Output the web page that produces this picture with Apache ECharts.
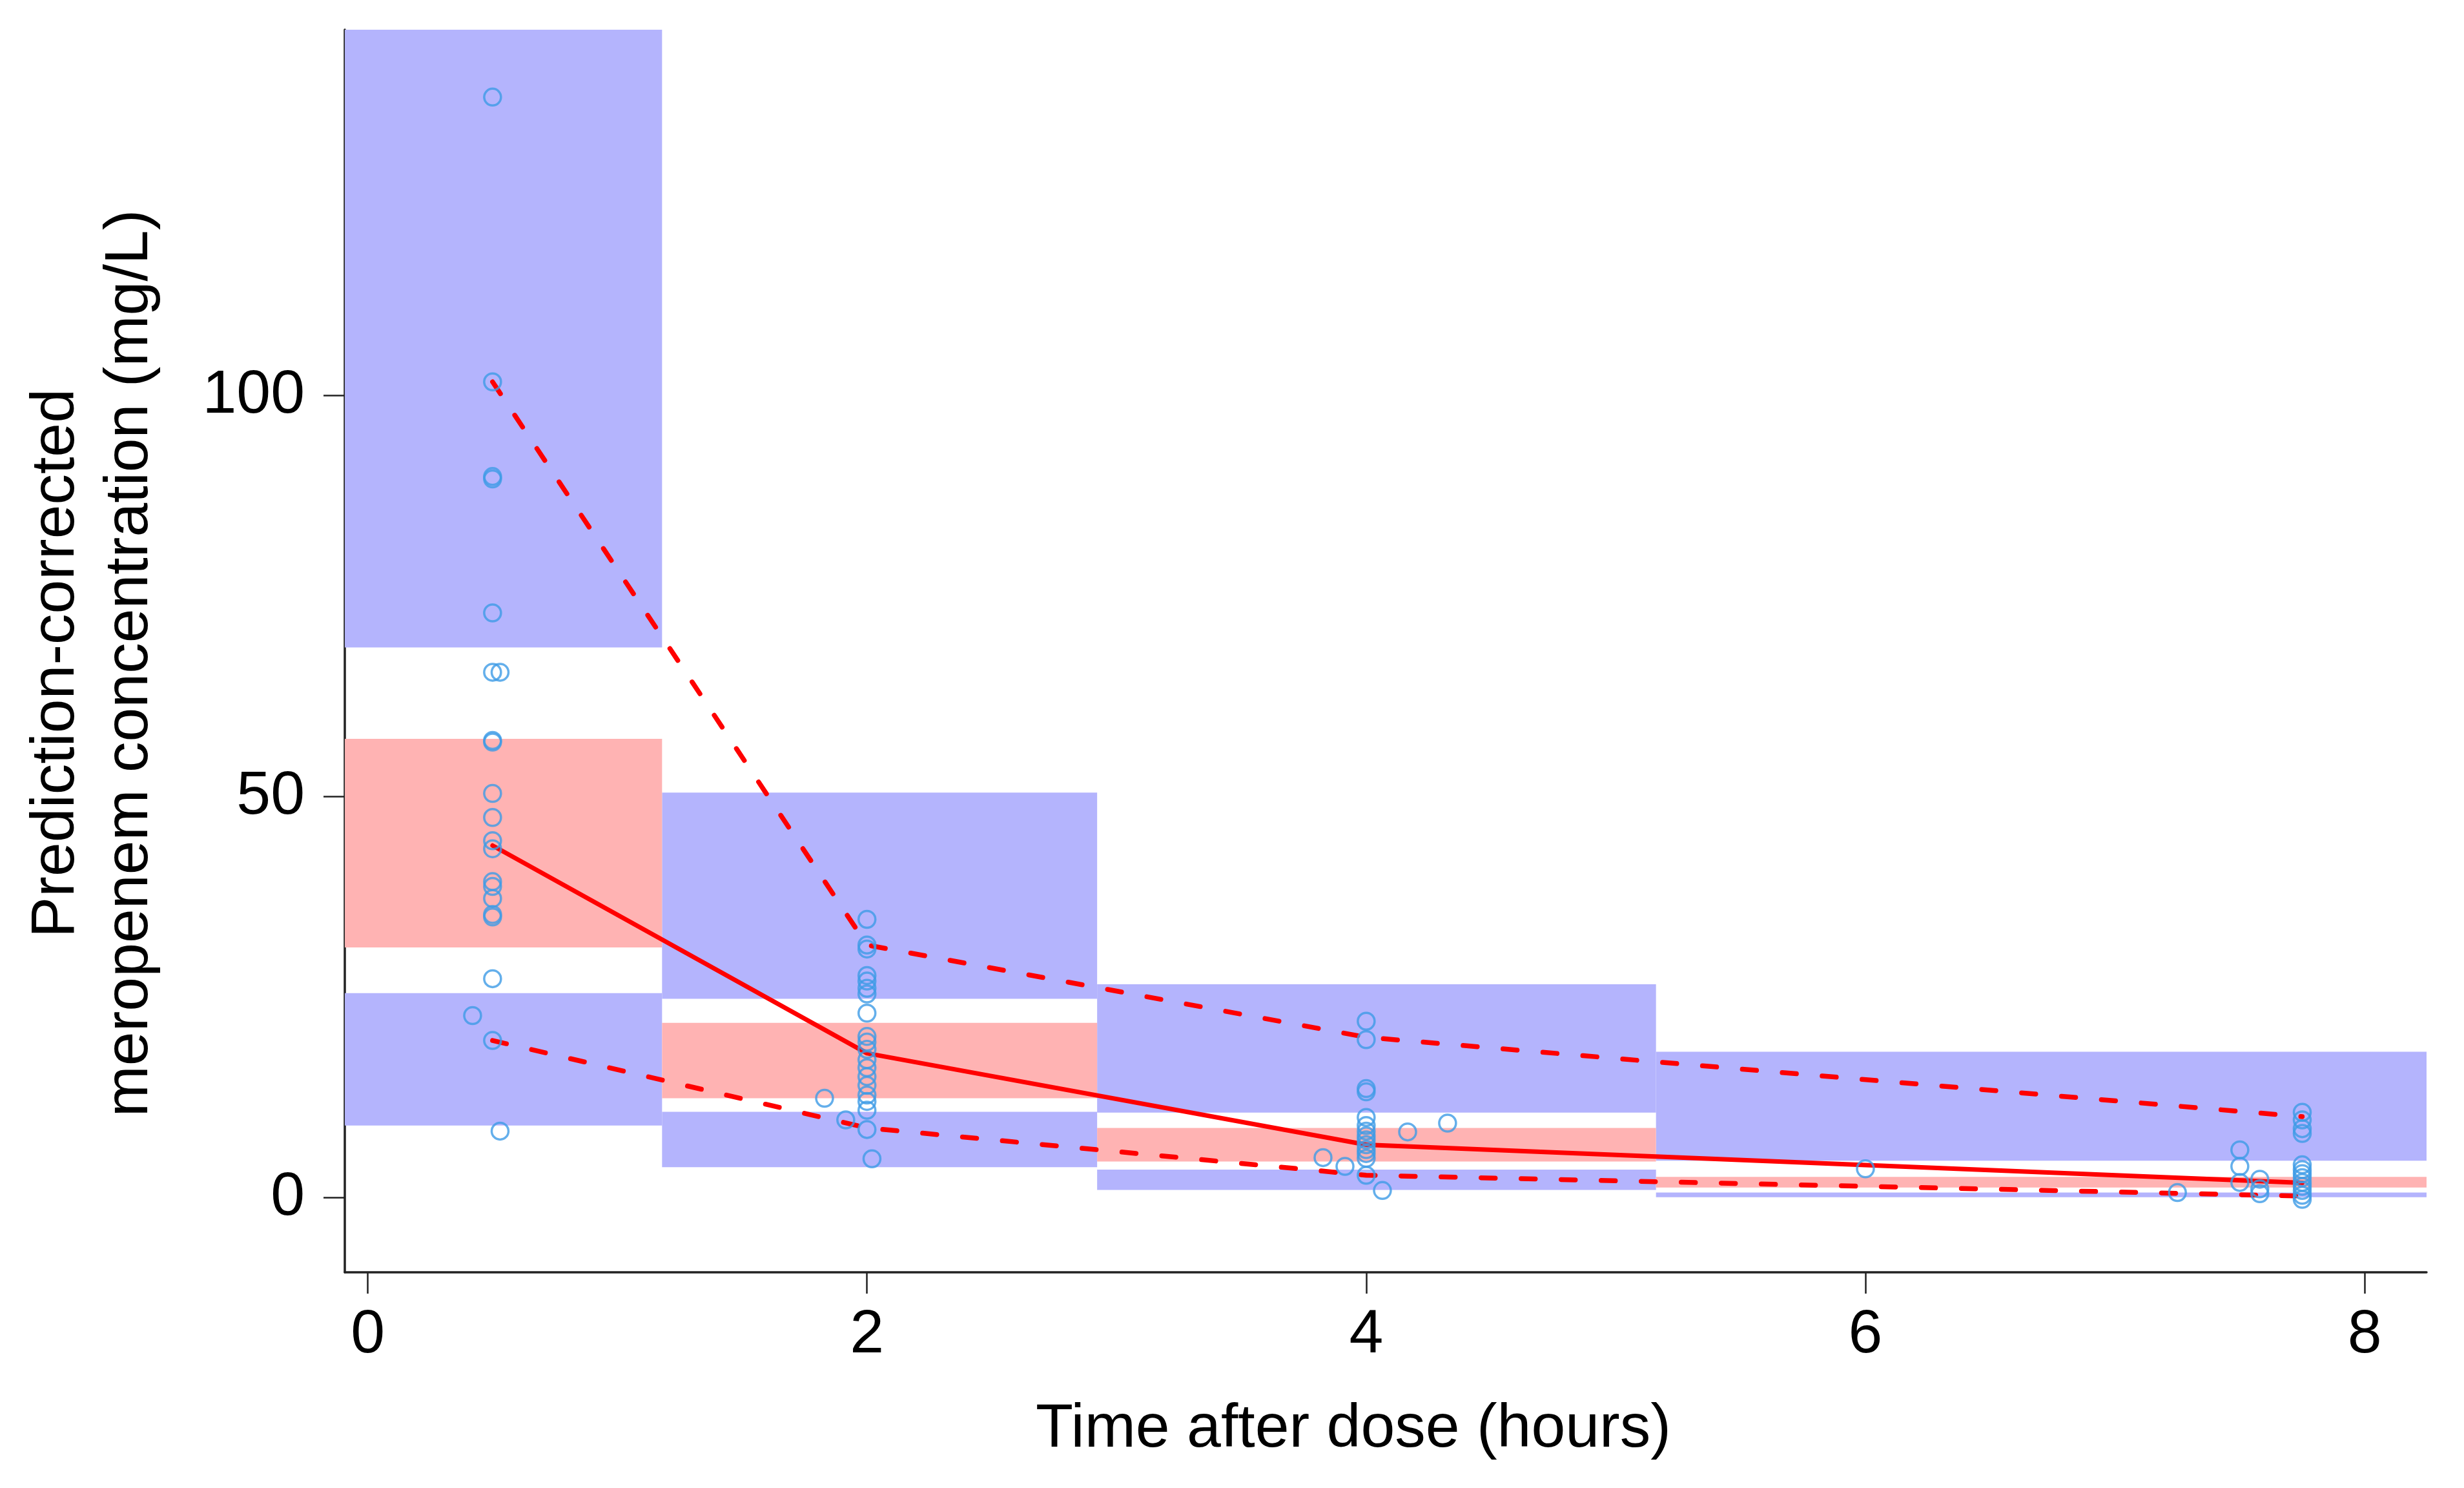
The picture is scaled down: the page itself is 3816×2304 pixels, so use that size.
<!DOCTYPE html>
<html>
<head>
<meta charset="utf-8">
<script src="https://cdn.jsdelivr.net/npm/echarts@6/dist/echarts.min.js"></script>
<style>
html,body{margin:0;padding:0;background:#fff;}
#chart{width:3816px;height:2304px;}
</style>
</head>
<body>
<div id="chart"></div>
<script>
// ---- Data ----
const xTicks = [0, 2, 4, 6, 8];
const yTicks = [0, 50, 100];

// bin boundaries (hours)
const binEdges = [-0.092, 1.179, 2.922, 5.161, 8.248];
// simulated prediction-interval bands per bin
const piLowLo = [9.0, 3.8, 0.97, 0.05];
const piLowHi = [25.5, 10.7, 3.5, 0.64];
const piMedLo = [31.2, 12.4, 4.5, 1.26];
const piMedHi = [57.2, 21.8, 8.7, 2.6];
const piUpLo  = [68.6, 24.8, 10.6, 4.6];
const piUpHi  = [145.6, 50.5, 26.6, 18.2];

// observed percentiles
const lineTimes = [0.5, 2, 4, 7.75];
const obsMedian = [43.9, 18.0, 6.6, 1.85];
const obsUpper  = [101.7, 31.5, 20.0, 10.1];
const obsLower  = [19.6, 8.7, 2.8, 0.2];

// observed prediction-corrected concentrations
const obsTime = [
  0.5,0.5,0.5,0.5,0.5,0.5,0.53,0.5,0.5,0.5,0.5,0.5,0.5,0.5,0.5,0.5,0.5,0.5,0.5,0.42,0.5,0.53,
  2,2,2,2,2,2,2,2,2,2,2,2,2,2,2,2,2,2,2,2.02,1.83,1.915,
  4,4,4,4,4,4,4,4,4,4,4,4,4,4,4.166,4.326,3.827,3.915,4.065,
  6.0,7.25,7.5,7.5,7.5,7.58,7.58,7.58,7.75,7.75,7.75,7.75,7.75,7.75,7.75,7.75,7.75,7.75,7.75,7.75,7.75
];
const obsConc = [
  137.2,101.7,89.9,89.6,72.9,65.5,65.5,57.0,56.8,50.4,47.4,44.5,43.5,39.4,38.8,37.3,35.3,35.0,27.3,22.7,19.6,8.3,
  34.7,31.5,31.0,27.7,27.0,26.1,25.4,23.0,20.1,19.4,18.5,17.2,16.2,15.1,14.0,12.8,12.0,10.9,8.5,4.85,12.4,9.7,
  22.0,19.7,13.6,13.2,10.0,9.0,8.3,7.7,7.2,6.6,6.0,5.5,4.9,2.8,8.2,9.3,5.0,3.9,0.9,
  3.6,0.64,5.96,3.9,1.9,2.3,1.1,0.5,10.65,9.7,8.6,8.0,4.1,3.5,3.0,2.5,1.9,1.4,0.9,0.3,-0.2
];

// ---- Build ----
const blueBands = [], redBands = [];
for (let i = 0; i < binEdges.length - 1; i++) {
  blueBands.push([binEdges[i], binEdges[i+1], piLowLo[i], piLowHi[i]]);
  blueBands.push([binEdges[i], binEdges[i+1], piUpLo[i], piUpHi[i]]);
  redBands.push([binEdges[i], binEdges[i+1], piMedLo[i], piMedHi[i]]);
}
function bandRenderer(color) {
  return function (params, api) {
    const p0 = api.coord([api.value(0), api.value(3)]);
    const p1 = api.coord([api.value(1), api.value(2)]);
    return {
      type: 'rect',
      shape: { x: p0[0], y: p0[1], width: p1[0] - p0[0], height: p1[1] - p0[1] },
      style: { fill: color }
    };
  };
}
const zip = (xs, ys) => xs.map((x, i) => [x, ys[i]]);

const FONT = 'Liberation Sans, Arial, Helvetica, sans-serif';
const chart = echarts.init(document.getElementById('chart'), null, { renderer: 'canvas' });
chart.setOption({
  animation: false,
  backgroundColor: '#ffffff',
  grid: { left: 534, right: 58, top: 46, bottom: 334, containLabel: false },
  xAxis: {
    type: 'value', min: binEdges[0], max: binEdges[binEdges.length - 1],
    name: 'Time after dose (hours)', nameLocation: 'middle', nameGap: 196,
    nameTextStyle: { fontFamily: FONT, fontSize: 95, color: '#000', padding: [0, 100, 0, 0] },
    axisLine: { show: true, onZero: false, lineStyle: { color: '#222', width: 3.5 } },
    axisTick: { show: true, length: 33, customValues: xTicks, lineStyle: { color: '#222', width: 2.5 } },
    axisLabel: { customValues: xTicks, margin: 50, fontFamily: FONT, fontSize: 95, color: '#000' },
    splitLine: { show: false }
  },
  yAxis: {
    type: 'value', min: -9.3, max: 145.6,
    name: 'Prediction-corrected\nmeropenem concentration (mg/L)', nameLocation: 'middle', nameGap: 275,
    nameRotate: 90,
    nameTextStyle: { fontFamily: FONT, fontSize: 95, color: '#000', lineHeight: 114, align: 'center', padding: [0, 38, 0, 0] },
    axisLine: { show: true, onZero: false, lineStyle: { color: '#222', width: 3.5 } },
    axisTick: { show: true, length: 33, customValues: yTicks, lineStyle: { color: '#222', width: 2.5 } },
    axisLabel: { customValues: yTicks, margin: 62, fontFamily: FONT, fontSize: 95, color: '#000' },
    splitLine: { show: false }
  },
  series: [
    { type: 'custom', name: 'outer PI', renderItem: bandRenderer('#b4b4fd'), data: blueBands, z: 1, silent: true },
    { type: 'custom', name: 'median PI', renderItem: bandRenderer('#ffb3b3'), data: redBands, z: 1, silent: true },
    { type: 'line', name: 'obs median', data: zip(lineTimes, obsMedian), symbol: 'none', z: 3,
      lineStyle: { color: '#ff0000', width: 7, type: 'solid', cap: 'round', join: 'round' } },
    { type: 'line', name: 'obs upper', data: zip(lineTimes, obsUpper), symbol: 'none', z: 3,
      lineStyle: { color: '#ff0000', width: 7.5, type: [22, 40], cap: 'round' } },
    { type: 'line', name: 'obs lower', data: zip(lineTimes, obsLower), symbol: 'none', z: 3,
      lineStyle: { color: '#ff0000', width: 7.5, type: [22, 40], cap: 'round' } },
    { type: 'scatter', name: 'observed', data: zip(obsTime, obsConc), symbol: 'circle', symbolSize: 26, z: 4,
      itemStyle: { color: 'rgba(0,0,0,0)', borderColor: '#3d9be6', borderWidth: 3.5 } }
  ]
});
</script>
</body>
</html>
